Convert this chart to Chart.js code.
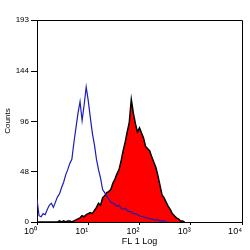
<!DOCTYPE html>
<html>
<head>
<meta charset="utf-8">
<script src="https://cdn.jsdelivr.net/npm/chart.js@4"></script>
<style>
  html, body { margin: 0; padding: 0; background: #fff; }
</style>
</head>
<body>
<canvas id="histChart" width="250" height="250"></canvas>
<script>
// channel width in decades (histogram bins on the log axis)
const BIN = 0.04;

// unstained control (blue outline), counts per bin from 10^0
const controlCounts = [22, 6, 5, 8, 7, 12, 16, 18, 14, 19, 24, 27, 33, 38, 45, 50, 56, 60, 76, 90,
  104, 115, 97, 112, 129, 116, 100, 85, 74, 60, 50, 42, 31, 28, 25, 22, 19, 18, 17, 15,
  16, 13, 12, 13, 11, 10, 10, 8, 8, 7, 6, 5, 5, 4, 4, 3, 3, 2, 2, 2, 1, 1, 1, 0, 0];

// stained sample (red fill, black edge)
const stainedCounts = [0, 0, 0, 0, 0, 0, 0, 0, 0, 0, 0, 1, 0, 1, 0, 1, 1, 0, 1, 2,
  3, 4, 6, 5, 7, 8, 9, 8, 11, 14, 18, 16, 23, 25, 28, 29, 31, 37, 41, 46,
  50, 58, 68, 76, 86, 95, 117, 104, 94, 86, 90, 85, 80, 72, 70, 68, 62, 57, 52, 44,
  35, 26, 23, 19, 15, 12, 8, 6, 4, 3, 1, 1, 0];

const yTicks = [0, 48, 96, 144, 193];
const xTicks = [0, 1, 2, 3, 4];
const xTickLabels = ['10\u2070', '10\u00b9', '10\u00b2', '10\u00b3', '10\u2074'];

function toPoints(counts) {
  return counts.map((c, i) => ({ x: i * BIN, y: c }));
}

// box round the plot area
const framePlugin = {
  id: 'frame',
  afterDraw(chart) {
    const { ctx, chartArea: a } = chart;
    ctx.save();
    ctx.strokeStyle = '#000';
    ctx.lineWidth = 1;
    ctx.beginPath();
    ctx.moveTo(a.left, a.top + 0.5);
    ctx.lineTo(a.right + 0.5, a.top + 0.5);
    ctx.lineTo(a.right + 0.5, a.bottom);
    ctx.stroke();
    ctx.restore();
  }
};

const ctx = document.getElementById('histChart').getContext('2d');
new Chart(ctx, {
  type: 'line',
  data: {
    datasets: [{
      label: 'Control',
      data: toPoints(controlCounts),
      borderColor: '#1c1cb8',
      borderWidth: 1.2,
      pointRadius: 0,
      fill: false
    }, {
      label: 'FL 1',
      data: toPoints(stainedCounts),
      borderColor: '#000',
      borderWidth: 1.5,
      backgroundColor: '#ff0000',
      pointRadius: 0,
      fill: 'origin'
    }]
  },
  options: {
    responsive: false,
    animation: false,
    devicePixelRatio: 1,
    layout: { padding: { top: 20, right: 8, left: 0, bottom: 0 } },
    plugins: { legend: { display: false }, tooltip: { enabled: false } },
    scales: {
      x: {
        type: 'linear',
        min: 0,
        max: 4,
        afterBuildTicks: s => { s.ticks = xTicks.map(v => ({ value: v })); },
        afterFit: s => { s.height = 28; },
        grid: { drawOnChartArea: false, tickLength: 3, color: '#000' },
        border: { color: '#000', width: 1 },
        ticks: {
          align: 'end',
          padding: 1,
          color: '#000',
          maxRotation: 0,
          font: { family: 'Liberation Sans', size: 9 },
          callback: v => xTickLabels[xTicks.indexOf(v)]
        },
        title: {
          display: true,
          text: 'FL 1 Log',
          color: '#000',
          font: { family: 'Liberation Sans', size: 9 },
          padding: { top: 0, bottom: 3 }
        }
      },
      y: {
        min: 0,
        max: 193,
        afterBuildTicks: s => { s.ticks = yTicks.map(v => ({ value: v })); },
        afterFit: s => { s.width = 37; },
        grid: { drawOnChartArea: false, tickLength: 6, color: '#000' },
        border: { color: '#000', width: 1 },
        ticks: {
          padding: 2,
          color: '#000',
          font: { family: 'Liberation Sans', size: 8 }
        },
        title: {
          display: true,
          text: 'Counts',
          color: '#000',
          font: { family: 'Liberation Sans', size: 8 },
          padding: { top: 3, bottom: 0 }
        }
      }
    }
  },
  plugins: [framePlugin]
});
</script>
</body>
</html>
